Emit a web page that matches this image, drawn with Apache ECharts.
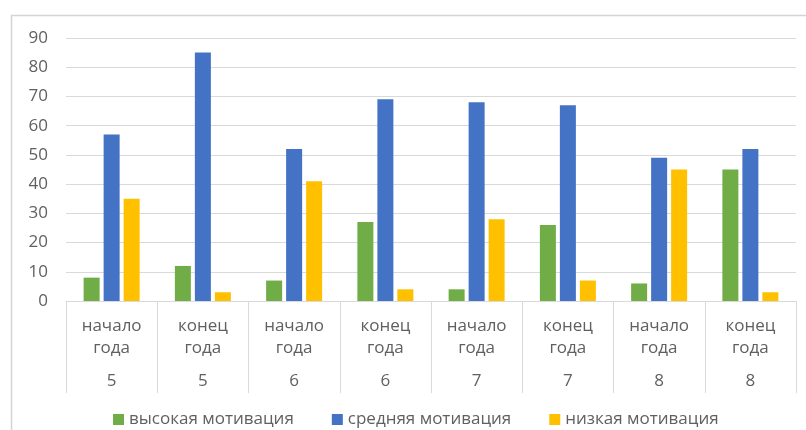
<!DOCTYPE html>
<html>
<head>
<meta charset="utf-8">
<script src="https://cdn.jsdelivr.net/npm/echarts@6/dist/echarts.min.js"></script>
<style>
  html, body { margin: 0; padding: 0; background: #fff; }
  #main { width: 806px; height: 430px; }
</style>
</head>
<body>
<div id="main"></div>
<script>
var periods = ['начало\nгода', 'конец\nгода', 'начало\nгода', 'конец\nгода', 'начало\nгода', 'конец\nгода', 'начало\nгода', 'конец\nгода'];
var grades = ['5', '5', '6', '6', '7', '7', '8', '8'];
var seriesNames = ['высокая мотивация', 'средняя мотивация', 'низкая мотивация'];
var high = [8, 12, 7, 27, 4, 26, 6, 45];
var middle = [57, 85, 52, 69, 68, 67, 49, 52];
var low = [35, 3, 41, 4, 28, 7, 45, 3];

var textColor = '#606060';
var lineColor = '#d9d9d9';
var font = '"Open Sans", "Noto Sans", sans-serif';

var myChart = echarts.init(document.getElementById('main'));

myChart.setOption({
  animation: false,
  textStyle: { fontFamily: font },
  color: ['#70ad47', '#4472c4', '#ffc000'],
  graphic: [{
    type: 'rect',
    shape: { x: 11.5, y: 15.5, width: 800, height: 420 },
    style: { fill: 'none', stroke: '#d4d4d4', lineWidth: 1.5 },
    silent: true
  }],
  legend: {
    data: seriesNames,
    top: 406,
    left: 108,
    itemWidth: 11,
    itemHeight: 11,
    itemGap: 38,
    icon: 'rect',
    textStyle: { color: textColor, fontSize: 17, fontFamily: font }
  },
  grid: {
    left: 66,
    right: 10,
    top: 38,
    bottom: 129
  },
  xAxis: [{
    type: 'category',
    data: periods,
    position: 'bottom',
    axisLine: { lineStyle: { color: lineColor } },
    axisTick: { show: true, length: 92, lineStyle: { color: lineColor } },
    axisLabel: {
      color: textColor,
      fontSize: 17,
      lineHeight: 22,
      margin: 14,
      interval: 0,
      fontFamily: font
    }
  }, {
    type: 'category',
    data: grades,
    position: 'bottom',
    axisLine: { show: false },
    axisTick: { show: false },
    axisLabel: {
      color: textColor,
      fontSize: 17,
      margin: 72,
      interval: 0,
      fontFamily: font
    }
  }],
  yAxis: {
    type: 'value',
    min: 0,
    max: 90,
    interval: 10,
    axisLine: { show: false },
    axisTick: { show: false },
    splitLine: { lineStyle: { color: lineColor } },
    axisLabel: { color: textColor, fontSize: 17, margin: 18, fontFamily: font }
  },
  series: [{
    name: seriesNames[0],
    type: 'bar',
    data: high,
    barWidth: 16,
    barGap: '25%'
  }, {
    name: seriesNames[1],
    type: 'bar',
    data: middle,
    barWidth: 16,
    barGap: '25%'
  }, {
    name: seriesNames[2],
    type: 'bar',
    data: low,
    barWidth: 16,
    barGap: '25%'
  }]
});
</script>
</body>
</html>
